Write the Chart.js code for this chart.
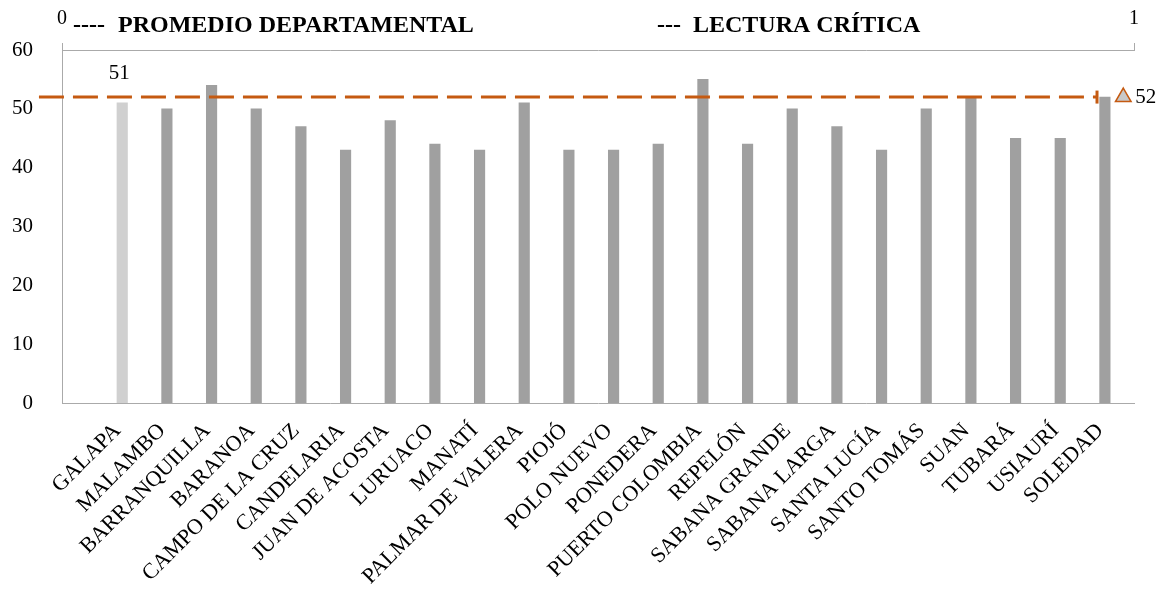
<!DOCTYPE html>
<html>
<head>
<meta charset="utf-8">
<script src="https://cdn.jsdelivr.net/npm/chart.js@4.4.1/dist/chart.umd.min.js"></script>
<style>
    html, body { margin: 0; padding: 0; background: #fff; }
    #wrap { width: 1161px; height: 605px; }
</style>
</head>
<body>
<div id="wrap"><canvas id="lecturaChart"></canvas></div>
<script>
// municipios and their Lectura Crítica average
const categories = ["GALAPA", "MALAMBO", "BARRANQUILLA", "BARANOA", "CAMPO DE LA CRUZ", "CANDELARIA",
    "JUAN DE ACOSTA", "LURUACO", "MANATÍ", "PALMAR DE VALERA", "PIOJÓ", "POLO NUEVO", "PONEDERA",
    "PUERTO COLOMBIA", "REPELÓN", "SABANA GRANDE", "SABANA LARGA", "SANTA LUCÍA", "SANTO TOMÁS",
    "SUAN", "TUBARÁ", "USIAURÍ", "SOLEDAD"];
const scores = [51, 50, 54, 50, 47, 43, 48, 44, 43, 51, 43, 43, 44, 55, 44, 50, 47, 43, 50, 52, 45, 45, 52];

// departmental average, drawn on the secondary (top) 0..1 axis
const deptAverage = 52;
const avgLineX = [-0.0215, 0.9655];
const avgPointX = 0.99;
const topTicks = [0, 1];
const yTicks = [0, 10, 20, 30, 40, 50, 60];

const highlighted = "GALAPA";
const labelledBars = ["GALAPA"];

const ORANGE = "#c55a11";
const SERIF = "'Liberation Serif', 'Times New Roman', serif";

Chart.defaults.font.family = SERIF;
Chart.defaults.color = "#000";

const headerPlugin = {
    id: "header",
    afterDraw(chart) {
        const ctx = chart.ctx;
        ctx.save();
        ctx.fillStyle = "#000";
        ctx.font = "bold 24px " + SERIF;
        ctx.textBaseline = "alphabetic";
        ctx.textAlign = "left";
        ctx.fillText("----", 73, 32);
        ctx.fillText("PROMEDIO DEPARTAMENTAL", 118, 32);
        ctx.fillText("---", 657, 32);
        ctx.fillText("LECTURA CRÍTICA", 693, 32);
        ctx.restore();
    }
};

const valueLabels = {
    id: "valueLabels",
    afterDatasetsDraw(chart) {
        const ctx = chart.ctx;
        ctx.save();
        ctx.fillStyle = "#000";
        ctx.font = "21px " + SERIF;
        ctx.textBaseline = "middle";

        const bars = chart.getDatasetMeta(0).data;
        ctx.textAlign = "center";
        categories.forEach((c, i) => {
            if (labelledBars.includes(c)) {
                ctx.fillText(String(scores[i]), bars[i].x - 3, bars[i].y - 29);
            }
        });

        const pt = chart.getDatasetMeta(2).data[0];
        ctx.textAlign = "left";
        ctx.fillText(String(deptAverage), pt.x + 12, pt.y);
        ctx.restore();
    }
};

const ctx = document.getElementById("lecturaChart").getContext("2d");
new Chart(ctx, {
    type: "bar",
    data: {
        datasets: [{
            label: "Lectura crítica",
            data: scores.map((v, i) => ({ x: i, y: v })),
            backgroundColor: categories.map(c => c === highlighted ? "#d0d0d0" : "#a0a0a0"),
            barThickness: 10.5,
            xAxisID: "x",
            yAxisID: "y",
            order: 2
        }, {
            type: "line",
            label: "Promedio departamental",
            data: avgLineX.map(x => ({ x: x, y: deptAverage })),
            borderColor: ORANGE,
            borderWidth: 3,
            borderDash: [25, 9],
            borderCapStyle: "butt",
            pointStyle: "line",
            pointRotation: 90,
            pointRadius: 6.5,
            pointBorderWidth: 3,
            pointBorderColor: ORANGE,
            pointBackgroundColor: ORANGE,
            xAxisID: "x2",
            yAxisID: "y",
            clip: false,
            order: 1
        }, {
            type: "scatter",
            label: "Promedio",
            data: [{ x: avgPointX, y: deptAverage }],
            pointStyle: "triangle",
            pointRadius: 9,
            pointBackgroundColor: "#c8c8c8",
            pointBorderColor: ORANGE,
            pointBorderWidth: 1.5,
            xAxisID: "x2",
            yAxisID: "y",
            clip: false,
            order: 0
        }]
    },
    options: {
        responsive: true,
        maintainAspectRatio: false,
        animation: false,
        layout: { padding: { left: 0, right: 27, top: 0, bottom: 0 } },
        plugins: {
            legend: { display: false },
            tooltip: { enabled: false }
        },
        scales: {
            x: {
                type: "linear",
                position: "bottom",
                min: -1.466,
                max: 22.534,
                offset: false,
                grid: { display: false, drawTicks: false, offset: false },
                border: { display: true, color: "#aaaaaa", width: 1 },
                afterBuildTicks: scale => {
                    scale.ticks = categories.map((c, i) => ({ value: i }));
                },
                afterFit: scale => { scale.height = 202; },
                ticks: {
                    autoSkip: false,
                    minRotation: 45,
                    maxRotation: 45,
                    padding: 15,
                    labelOffset: -10,
                    font: { size: 22 },
                    callback: v => categories[v]
                }
            },
            x2: {
                type: "linear",
                position: "top",
                min: 0,
                max: 1,
                offset: false,
                grid: { drawOnChartArea: false, drawTicks: true, tickLength: 7, color: "#aaaaaa", offset: false },
                border: { display: true, color: "#aaaaaa", width: 1 },
                afterBuildTicks: scale => {
                    scale.ticks = topTicks.map(v => ({ value: v }));
                },
                afterFit: scale => { scale.height = 50; },
                ticks: { padding: 12, font: { size: 20 } }
            },
            y: {
                min: 0,
                max: 60,
                grid: { display: false, drawTicks: false },
                border: { display: true, color: "#aaaaaa", width: 1 },
                afterBuildTicks: scale => {
                    scale.ticks = yTicks.map(v => ({ value: v }));
                },
                afterFit: scale => { scale.width = 62; },
                ticks: { padding: 29, font: { size: 21 } }
            }
        }
    },
    plugins: [headerPlugin, valueLabels]
});
</script>
</body>
</html>
